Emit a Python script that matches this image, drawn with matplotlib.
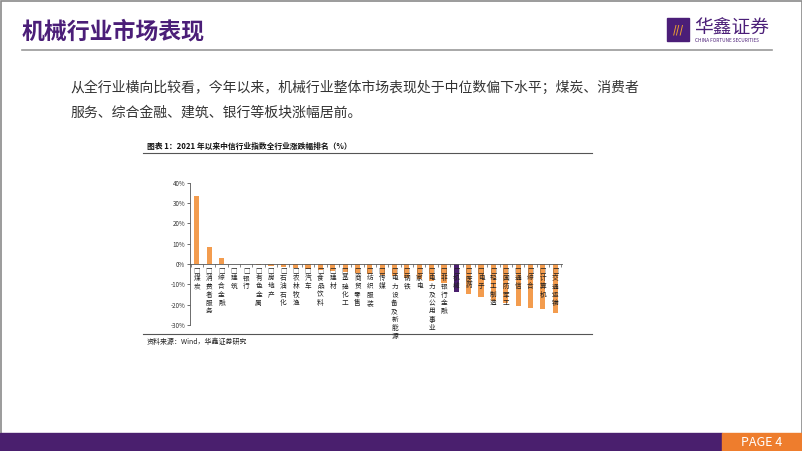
import matplotlib
matplotlib.use("Agg")
import matplotlib.pyplot as plt
from matplotlib.patches import Rectangle
from matplotlib.ticker import FuncFormatter, FixedLocator

plt.rcParams['font.family'] = ['Noto Sans CJK SC', 'DejaVu Sans']

# data: 2021 YTD change of CITIC industry indices (%)
industries = ['煤炭', '消费者服务', '综合金融', '建筑', '银行', '有色金属', '房地产',
              '石油石化', '农林牧渔', '汽车', '食品饮料', '建材', '基础化工', '商贸零售',
              '纺织服装', '传媒', '电力设备及新能源', '钢铁', '家电', '电力及公用事业',
              '非银行金融', '机械', '医药', '电子', '轻工制造', '国防军工', '通信',
              '综合', '计算机', '交通运输']
changes = [33.5, 8.3, 3.0, 0.2, 0.1, -0.5, -0.8, -1.5, -2.0, -2.5, -3.0, -3.5, -4.0,
           -4.5, -5.0, -5.5, -6.0, -7.0, -7.5, -8.5, -9.5, -14.0, -14.8, -16.0, -18.0,
           -19.3, -20.6, -21.8, -22.3, -23.9]
highlight = '机械'
yticks = [-30, -20, -10, 0, 10, 20, 30, 40]

purple = '#4a1f6e'
orange = '#f39c4e'
page_orange = '#ee7d2d'

fig = plt.figure(figsize=(8.02, 4.51), dpi=100)

# slide background layer in pixel coordinates
bg = fig.add_axes([0, 0, 1, 1])
bg.set_xlim(0, 802)
bg.set_ylim(451, 0)
bg.axis('off')
bg.add_patch(Rectangle((0.5, 0.5), 801, 450, fill=False, ec='#8a8a8a', lw=1.2))

bg.text(22, 32, '机械行业市场表现', fontsize=16.5, fontweight='bold', color='#4b1e78',
        va='center', ha='left')
bg.plot([22, 772], [50, 50], color='#9a9a9a', lw=1.2)

# logo
bg.add_patch(Rectangle((667, 18), 22, 23, color='#4b1e78'))
bg.text(678, 30, '///', fontsize=7, color='#f0a030', ha='center', va='center',
        fontweight='bold')
bg.text(694, 28, '华鑫证券', fontsize=13.5, color='#4b1e78', ha='left', va='center')
bg.text(695, 41, 'CHINA FORTUNE SECURITIES', fontsize=3.4, color='#4b1e78',
        ha='left', va='center')

# paragraph
bg.text(70, 88, '从全行业横向比较看，今年以来，机械行业整体市场表现处于中位数偏下水平；煤炭、消费者',
        fontsize=10, color='#333333', ha='left', va='center')
bg.text(70, 113, '服务、综合金融、建筑、银行等板块涨幅居前。',
        fontsize=10, color='#333333', ha='left', va='center')

# chart frame
bg.text(147, 146, '图表 1：2021 年以来中信行业指数全行业涨跌幅排名（%）', fontsize=5.6,
        fontweight='bold', color='#111111', ha='left', va='center')
bg.plot([143, 592], [153, 153], color='#555555', lw=0.8)
bg.plot([143, 592], [334, 334], color='#555555', lw=0.8)
bg.text(147, 342, '资料来源：Wind，华鑫证券研究', fontsize=5, color='#222222',
        ha='left', va='center')

# bottom band
bg.add_patch(Rectangle((0, 433), 722, 18, color=purple))
bg.add_patch(Rectangle((722, 433), 80, 18, color=page_orange))
bg.text(762, 442, 'PAGE 4', fontsize=9, color='white', ha='center', va='center')

# bar chart
ax = fig.add_axes([190 / 802, 1 - 325 / 451, (562 - 190) / 802, (325 - 182.7) / 451])
x = list(range(len(industries)))
colors = [purple if n == highlight else orange for n in industries]
ax.bar(x, changes, width=0.42, color=colors, zorder=2)
ax.set_xlim(-0.55, len(industries) - 0.45)
ax.set_ylim(-30, 40)
ax.set_yticks(yticks)
ax.yaxis.set_major_formatter(FuncFormatter(lambda v, p: f'{int(v)}%'))
ax.tick_params(axis='y', labelsize=4.5, length=2, width=0.5, pad=1.5, colors='#333333')
for s in ['top', 'right']:
    ax.spines[s].set_visible(False)
ax.spines['left'].set_linewidth(0.6)
ax.spines['left'].set_color('#555555')
ax.spines['bottom'].set_position(('data', 0))
ax.spines['bottom'].set_linewidth(0.6)
ax.spines['bottom'].set_color('#555555')
ax.spines['bottom'].set_zorder(3)
ax.xaxis.set_major_locator(FixedLocator([i + 0.5 for i in range(-1, len(industries))]))
ax.set_xticklabels([])
ax.tick_params(axis='x', length=2.2, width=0.5, colors='#555555', direction='out')
ax.patch.set_alpha(0)

for i, name in enumerate(industries):
    ax.text(i, -0.9, '\n'.join('□' + name), fontsize=4.8, ha='center', va='top',
            linespacing=1.05, color='#222222', zorder=4)

fig.savefig('out.png', dpi=100)
